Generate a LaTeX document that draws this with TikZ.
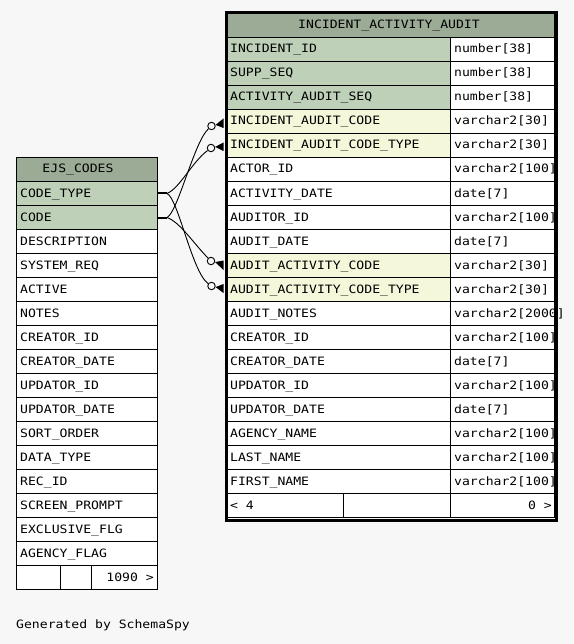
\documentclass[tikz,border=0pt]{standalone}
\usepackage{fontspec}
\newfontfamily\schemafont[FakeStretch=1.14]{DejaVu Sans Mono}
\definecolor{bgc}{HTML}{F7F7F7}
\definecolor{headc}{HTML}{9BAB96}
\definecolor{pkc}{HTML}{BED1B8}
\definecolor{fkc}{HTML}{F4F7DA}
\tikzset{
  cell/.style={draw=black, line width=1pt, inner sep=0pt, minimum height=24pt, anchor=north west},
  txt/.style={font=\schemafont\fontsize{11.5}{12}\selectfont, inner sep=0pt, anchor=base west, text=black},
  fk/.style={draw=black, line width=0.9pt},
  fkdot/.style={circle, draw=black, fill=bgc, line width=0.9pt, inner sep=0pt, minimum size=7.5pt},
  crow/.style={fill=black},
  stub/.style={draw=black, line width=2pt}
}
\newcommand\ejsrow[4]{%
  \node[cell, fill=#3, minimum width=141pt] (#1) at (16,#2) {};
  \node[txt] (#1-t) at (20,#2+16) {#4};}
\newcommand\iaarow[5]{%
  \node[cell, fill=#3, minimum width=224pt] (#1) at (226,#2) {};
  \node[cell, fill=white, minimum width=104pt] (#1-ty) at (450,#2) {};
  \node[txt] (#1-t) at (230,#2+16) {#4};
  \node[txt] (#1-tt) at (454,#2+16) {#5};}
\begin{document}
\begin{tikzpicture}[x=1pt,y=-1pt]
\fill[bgc] (0,0) rectangle (573,644);
\useasboundingbox (0,0) rectangle (573,644);

% EJS_CODES
\node[cell, fill=headc, minimum width=141pt] (ejs-head) at (16,157) {};
\node[txt, anchor=base] (ejs-head-t) at (78,173) {EJS\_CODES};
\ejsrow{ejs-codetype}{181}{pkc}{CODE\_TYPE}
\ejsrow{ejs-code}{205}{pkc}{CODE}
\ejsrow{ejs-desc}{229}{white}{DESCRIPTION}
\ejsrow{ejs-sysreq}{253}{white}{SYSTEM\_REQ}
\ejsrow{ejs-active}{277}{white}{ACTIVE}
\ejsrow{ejs-notes}{301}{white}{NOTES}
\ejsrow{ejs-creatorid}{325}{white}{CREATOR\_ID}
\ejsrow{ejs-creatordate}{349}{white}{CREATOR\_DATE}
\ejsrow{ejs-updatorid}{373}{white}{UPDATOR\_ID}
\ejsrow{ejs-updatordate}{397}{white}{UPDATOR\_DATE}
\ejsrow{ejs-sortorder}{421}{white}{SORT\_ORDER}
\ejsrow{ejs-datatype}{445}{white}{DATA\_TYPE}
\ejsrow{ejs-recid}{469}{white}{REC\_ID}
\ejsrow{ejs-prompt}{493}{white}{SCREEN\_PROMPT}
\ejsrow{ejs-excl}{517}{white}{EXCLUSIVE\_FLG}
\ejsrow{ejs-agency}{541}{white}{AGENCY\_FLAG}
\node[cell, fill=white, minimum width=44pt] (ejs-f1) at (16,565) {};
\node[cell, fill=white, minimum width=31pt] (ejs-f2) at (60,565) {};
\node[cell, fill=white, minimum width=66pt] (ejs-f3) at (91,565) {};
\node[txt, anchor=base east] (ejs-f3-t) at (154,581) {1090 >};

% INCIDENT_ACTIVITY_AUDIT
\node[cell, fill=headc, minimum width=328pt, minimum height=25pt] (iaa-head) at (226,12) {};
\node[txt, anchor=base] (iaa-head-t) at (389,29) {INCIDENT\_ACTIVITY\_AUDIT};
\iaarow{iaa-incid}{37}{pkc}{INCIDENT\_ID}{number[38]}
\iaarow{iaa-suppseq}{61}{pkc}{SUPP\_SEQ}{number[38]}
\iaarow{iaa-actauditseq}{85}{pkc}{ACTIVITY\_AUDIT\_SEQ}{number[38]}
\iaarow{iaa-incauditcode}{109}{fkc}{INCIDENT\_AUDIT\_CODE}{varchar2[30]}
\iaarow{iaa-incauditcodetype}{133}{fkc}{INCIDENT\_AUDIT\_CODE\_TYPE}{varchar2[30]}
\iaarow{iaa-actorid}{157}{white}{ACTOR\_ID}{varchar2[100]}
\iaarow{iaa-actdate}{181}{white}{ACTIVITY\_DATE}{date[7]}
\iaarow{iaa-auditorid}{205}{white}{AUDITOR\_ID}{varchar2[100]}
\iaarow{iaa-auditdate}{229}{white}{AUDIT\_DATE}{date[7]}
\iaarow{iaa-auditactcode}{253}{fkc}{AUDIT\_ACTIVITY\_CODE}{varchar2[30]}
\iaarow{iaa-auditactcodetype}{277}{fkc}{AUDIT\_ACTIVITY\_CODE\_TYPE}{varchar2[30]}
\iaarow{iaa-auditnotes}{301}{white}{AUDIT\_NOTES}{varchar2[2000]}
\iaarow{iaa-creatorid}{325}{white}{CREATOR\_ID}{varchar2[100]}
\iaarow{iaa-creatordate}{349}{white}{CREATOR\_DATE}{date[7]}
\iaarow{iaa-updatorid}{373}{white}{UPDATOR\_ID}{varchar2[100]}
\iaarow{iaa-updatordate}{397}{white}{UPDATOR\_DATE}{date[7]}
\iaarow{iaa-agencyname}{421}{white}{AGENCY\_NAME}{varchar2[100]}
\iaarow{iaa-lastname}{445}{white}{LAST\_NAME}{varchar2[100]}
\iaarow{iaa-firstname}{469}{white}{FIRST\_NAME}{varchar2[100]}
\node[cell, fill=white, minimum width=117pt] (iaa-f1) at (226,493) {};
\node[cell, fill=white, minimum width=107pt] (iaa-f2) at (343,493) {};
\node[cell, fill=white, minimum width=104pt] (iaa-f3) at (450,493) {};
\node[txt] (iaa-f1-t) at (230,509) {< 4};
\node[txt, anchor=base east] (iaa-f3-t) at (552,509) {0 >};
\node[draw=black, line width=3pt, inner sep=0pt, minimum width=330.5pt, minimum height=507pt, anchor=north west] (iaa-frame) at (224.5,11.5) {};

% connector ends (open dot + crow's foot at the child table)
\node[fkdot] (dotA1) at (211.5,126) {};
\node[fkdot] (dotA2) at (211,148) {};
\node[fkdot] (dotB1) at (211,261) {};
\node[fkdot] (dotB2) at (211.5,286) {};
\fill[crow] (dotA1.15) -- (223.5,118.5) -- (223.5,128) -- cycle;
\fill[crow] (dotA2.15) -- (223.5,142.5) -- (223.5,151) -- cycle;
\fill[crow] (dotB1.-15) -- (223.5,260.5) -- (223.5,270) -- cycle;
\fill[crow] (dotB2.-15) -- (223.5,284) -- (223.5,293) -- cycle;

% connectors
\draw[stub] (ejs-codetype.east) -- ++(9,0) coordinate (ct-out);
\draw[stub] (ejs-code.east) -- ++(9,0) coordinate (c-out);
\draw[fk] (ct-out) .. controls (180,188) and (192,162) .. (dotA2);
\draw[fk] (c-out) .. controls (178,212) and (194,142) .. (dotA1);
\draw[fk] (ct-out) .. controls (178,198) and (192,272) .. (dotB2);
\draw[fk] (c-out) .. controls (180,222) and (194,244) .. (dotB1);

\node[txt] (footer-t) at (16,628) {Generated by SchemaSpy};
\end{tikzpicture}
\end{document}
